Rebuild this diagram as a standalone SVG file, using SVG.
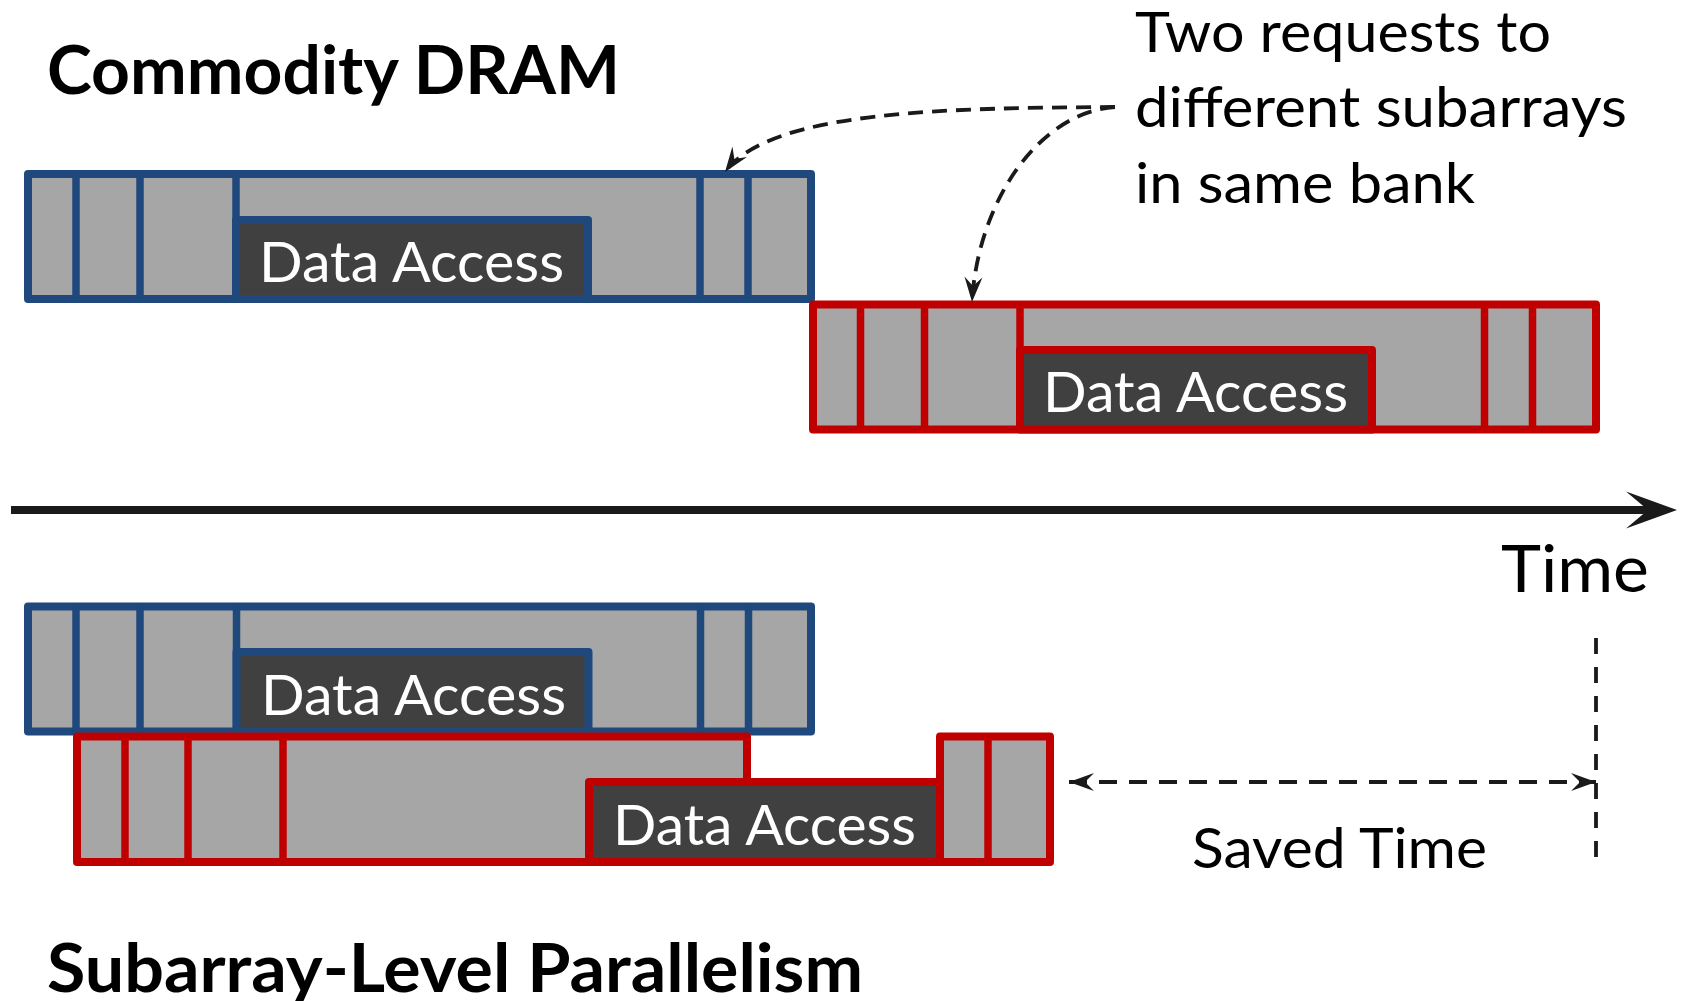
<svg xmlns="http://www.w3.org/2000/svg" width="1681" height="1001" viewBox="0 0 1681 1001">
<style>
  .blk{fill:#A6A6A6;stroke-width:8;stroke-linejoin:round}
  .blue{stroke:#1F497D}
  .red{stroke:#C00000}
  .div{stroke-width:7.5;fill:none}
  .data{fill:#404040;stroke-width:8;stroke-linejoin:round}
  .dtxt{font-family:Lato,"Open Sans","Liberation Sans",sans-serif;font-size:56px;fill:#FFFFFF}
  .lbl{font-family:Lato,"Open Sans","Liberation Sans",sans-serif;font-size:56px;fill:#000000}
  .ttl{font-family:Lato,"Open Sans","Liberation Sans",sans-serif;font-size:66px;font-weight:bold;fill:#000000}
  .dash{fill:none;stroke:#1A1A1A;stroke-width:3.8;stroke-dasharray:15 9}
</style>
<defs>
  <marker id="ah" markerUnits="userSpaceOnUse" markerWidth="30" markerHeight="24" viewBox="0 -12 30 24" refX="25" refY="0" orient="auto-start-reverse" overflow="visible">
    <path d="M0,-9 L25,0 L0,9 L9,0 Z" fill="#1A1A1A"/>
  </marker>
  <marker id="bigah" markerUnits="userSpaceOnUse" markerWidth="56" markerHeight="40" viewBox="0 -20 56 40" refX="25" refY="0" orient="auto" overflow="visible">
    <path d="M0,-18.5 L51,0 L0,18.5 L22,0 Z" fill="#1A1A1A"/>
  </marker>
</defs>
<rect width="1681" height="1001" fill="#FFFFFF"/>

<text id="title-commodity" class="ttl" x="47" y="94" textLength="573" lengthAdjust="spacingAndGlyphs">Commodity DRAM</text>
<text id="title-salp" class="ttl" x="47" y="992" textLength="816" lengthAdjust="spacingAndGlyphs">Subarray-Level Parallelism</text>

<g id="note">
  <text class="lbl" x="1135" y="51.5" textLength="416" lengthAdjust="spacingAndGlyphs">Two requests to</text>
  <text class="lbl" x="1135" y="127" textLength="492" lengthAdjust="spacingAndGlyphs">different subarrays</text>
  <text class="lbl" x="1135" y="202.5" textLength="340" lengthAdjust="spacingAndGlyphs">in same bank</text>
</g>

<g id="req1-commodity">
  <rect class="blk blue" x="28" y="174" width="783" height="125"/>
  <g class="div blue">
    <line x1="76" y1="174" x2="76" y2="299"/>
    <line x1="140" y1="174" x2="140" y2="299"/>
    <line x1="236" y1="174" x2="236" y2="299"/>
    <line x1="700" y1="174" x2="700" y2="299"/>
    <line x1="748" y1="174" x2="748" y2="299"/>
  </g>
  <rect class="data blue" x="236" y="220" width="352" height="79"/>
  <text class="dtxt" x="259" y="282" textLength="305" lengthAdjust="spacingAndGlyphs">Data Access</text>
</g>

<g id="req2-commodity">
  <rect class="blk red" x="813" y="304.5" width="783" height="125"/>
  <g class="div red">
    <line x1="860.5" y1="304.5" x2="860.5" y2="429.5"/>
    <line x1="924.5" y1="304.5" x2="924.5" y2="429.5"/>
    <line x1="1020" y1="304.5" x2="1020" y2="429.5"/>
    <line x1="1484.5" y1="304.5" x2="1484.5" y2="429.5"/>
    <line x1="1532.5" y1="304.5" x2="1532.5" y2="429.5"/>
  </g>
  <rect class="data red" x="1020" y="350" width="352" height="79.5"/>
  <text class="dtxt" x="1043" y="412" textLength="305" lengthAdjust="spacingAndGlyphs">Data Access</text>
</g>

<g id="req1-salp">
  <rect class="blk blue" x="28" y="606.5" width="783" height="125"/>
  <g class="div blue">
    <line x1="76" y1="606.5" x2="76" y2="731.5"/>
    <line x1="140" y1="606.5" x2="140" y2="731.5"/>
    <line x1="236.5" y1="606.5" x2="236.5" y2="731.5"/>
    <line x1="700.5" y1="606.5" x2="700.5" y2="731.5"/>
    <line x1="748.5" y1="606.5" x2="748.5" y2="731.5"/>
  </g>
  <rect class="data blue" x="236.5" y="652" width="352" height="79.5"/>
  <text class="dtxt" x="261" y="715" textLength="305" lengthAdjust="spacingAndGlyphs">Data Access</text>
</g>

<g id="req2-salp">
  <path class="blk red" d="M77,736.5 L747,736.5 L747,782 L940,782 L940,736.5 L1050,736.5 L1050,862 L77,862 Z"/>
  <g class="div red">
    <line x1="125" y1="736.5" x2="125" y2="862"/>
    <line x1="188" y1="736.5" x2="188" y2="862"/>
    <line x1="283" y1="736.5" x2="283" y2="862"/>
    <line x1="988" y1="736.5" x2="988" y2="862"/>
  </g>
  <rect class="data red" x="589" y="782" width="351" height="80"/>
  <text class="dtxt" x="613" y="845" textLength="303" lengthAdjust="spacingAndGlyphs">Data Access</text>
</g>

<g id="time-axis">
  <text class="lbl" x="1501" y="592" style="font-size:66px" textLength="148" lengthAdjust="spacingAndGlyphs">Time</text>
</g>

<g id="saved-time-label">
  <text class="lbl" x="1192" y="868" textLength="295" lengthAdjust="spacingAndGlyphs">Saved Time</text>
</g>

<g id="connectors">
  <line x1="11" y1="510" x2="1651" y2="510" stroke="#1A1A1A" stroke-width="8" marker-end="url(#bigah)"/>
  <path class="dash" d="M1115,107 C950,108 770,110 725,172" marker-end="url(#ah)"/>
  <path class="dash" d="M1115,107 C1040,112 978,200 972,302" marker-end="url(#ah)"/>
  <line class="dash" x1="1596" y1="638" x2="1596" y2="864" style="stroke-dasharray:16 13"/>
  <line class="dash" x1="1069" y1="782" x2="1596" y2="782" style="stroke-dasharray:18 12" marker-start="url(#ah)" marker-end="url(#ah)"/>
</g>
</svg>
